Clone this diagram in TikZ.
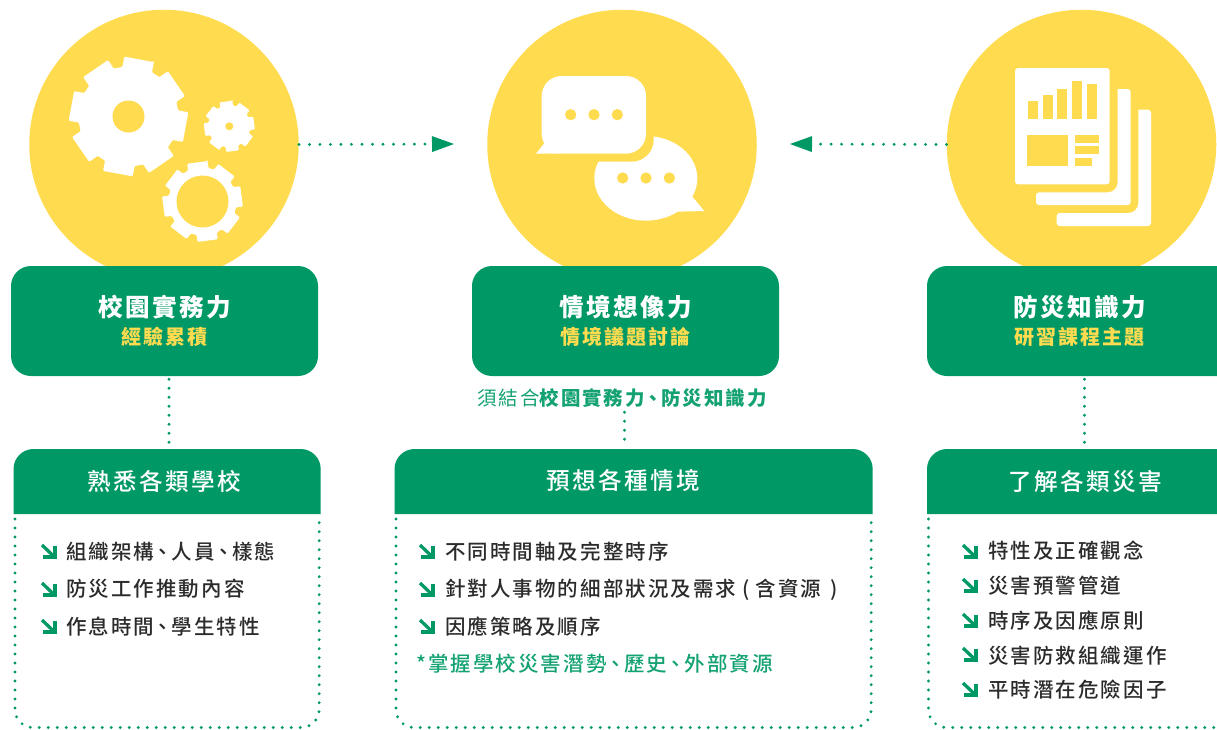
\documentclass[tikz,border=0pt]{standalone}
\usepackage{fontspec}
\usetikzlibrary{arrows.meta}
\setmainfont{Noto Sans CJK TC}
\newfontfamily\cjk[LetterSpace=10]{Noto Sans CJK TC}
\newfontfamily\cjkm[LetterSpace=10]{Noto Sans CJK TC Medium}
\definecolor{gr}{HTML}{009966}
\definecolor{ye}{HTML}{FFDB50}
\definecolor{lgr}{HTML}{14A273}
\definecolor{tx}{HTML}{2B2B2B}
\newcommand{\dun}{\hspace{-1.5pt}、\hspace{-1.5pt}}
\tikzset{
 x=1pt,y=-1pt,
 disc/.style={circle,fill=ye,minimum size=269.5pt,inner sep=0pt},
 gbox/.style={rectangle,fill=gr,rounded corners=20pt,minimum width=307pt,minimum height=110pt,inner sep=0pt},
 ttl/.style={inner sep=0pt,text=white,font=\cjk\bfseries\fontsize{24.6}{28}\selectfont},
 sub/.style={inner sep=0pt,text=ye,font=\cjk\bfseries\fontsize{20}{23}\selectfont},
 hdr/.style={inner sep=0pt,text=white,font=\cjkm\fontsize{23.6}{27}\selectfont},
 itm/.style={inner sep=0pt,anchor=west,text=tx,font=\cjkm\fontsize{20.5}{23}\selectfont},
 dotl/.style={draw=gr,line width=3.2pt,line cap=round,dash pattern=on 0pt off 9pt},
 dota/.style={draw=gr,line width=3.2pt,line cap=round,dash pattern=on 0pt off 10.5pt,
   -{Triangle[length=22pt,width=16pt,line width=0pt,fill=gr]}},
}
\newcommand{\gear}[6]{% cx cy R r hole a0
 \fill[white,rounded corners=1pt] ({#1+#3*cos(#6)},{#2-#3*sin(#6)})
 \foreach \k in {0,...,7}{
  -- ({#1+#3*cos(#6+29+45*\k)},{#2-#3*sin(#6+29+45*\k)})
  -- ({#1+#4*cos(#6+32+45*\k)},{#2-#4*sin(#6+32+45*\k)})
  -- ({#1+#4*cos(#6+42+45*\k)},{#2-#4*sin(#6+42+45*\k)})
  -- ({#1+#3*cos(#6+45+45*\k)},{#2-#3*sin(#6+45+45*\k)})
 } -- cycle;
 \fill[ye] (#1,#2) circle[radius=#5];
}
\newcommand{\bul}[2]{%
 \draw[gr,line width=3.3pt] (#1+1,#2-6) -- (#1+12.5,#2+5);
 \draw[gr,line width=3.3pt] (#1+14,#2-5) -- (#1+14,#2+6) -- (#1+2,#2+6);
}
\newcommand{\card}[2]{% x1 x2
 \draw[dotl,rounded corners=18pt] (#1+1.5,519) -- (#1+1.5,727.5) -- (#2-1.5,727.5) -- (#2-1.5,519);
 \fill[gr] (#1,514) -- (#1,469) arc[start angle=180,end angle=270,radius=20] -- (#2-20,449) arc[start angle=270,end angle=360,radius=20] -- (#2,514) -- cycle;
}
\begin{document}
\begin{tikzpicture}
\useasboundingbox (0,0) rectangle (1217,729);
\clip (0,0) rectangle (1217,729);
% discs
\node[disc] (c1) at (164,144.5) {};
\node[disc] (c2) at (622,144.5) {};
\node[disc] (c3) at (1081.5,144.5) {};
% gears
\gear{128.5}{116.5}{60}{50}{16}{65}
\gear{202.5}{201.5}{40.7}{34}{26}{83}
\gear{229.3}{126.3}{25.8}{21}{4}{83}
% speech bubbles
\begin{scope}[shift={(460,0)},x=0.33333pt,y=-0.33333pt]
 \fill[white] (557.5,535) ellipse[x radius=154.5,y radius=127];
 \fill[white] (697,590) -- (733,633) -- (652,635) -- cycle;
 \fill[ye,rounded corners=22pt] (222,205) rectangle (581,485);
 \fill[white,rounded corners=20pt] (245,228) rectangle (558,461);
 \fill[white] (228,461) -- (253,430) -- (300,461) -- cycle;
 \foreach \p in {332,402,472}{\fill[ye] (\p,344) circle[radius=17];}
 \foreach \p in {488,558,628}{\fill[ye] (\p,534) circle[radius=17];}
\end{scope}
% documents
\begin{scope}[shift={(780,0)},x=0.33333pt,y=-0.33333pt]
 \fill[white,rounded corners=3pt] (705,204) rectangle (989,553);
 \fill[white] [rounded corners=3pt] (1013,267) -- (1052,267) -- (1052,615) -- (768,615) -- (768,577) [rounded corners=10pt] -- (1013,577) [rounded corners=0pt] -- cycle;
 \fill[white] [rounded corners=3pt] (1075,329) -- (1113,329) -- (1113,678) -- (830,678) -- (830,639) [rounded corners=10pt] -- (1075,639) [rounded corners=0pt] -- cycle;
 \fill[ye] (744,303) rectangle (774,357);
 \fill[ye] (789,285) rectangle (819,357);
 \fill[ye] (831,267) rectangle (861,357);
 \fill[ye] (876,243) rectangle (906,357);
 \fill[ye] (921,252) rectangle (951,357);
 \fill[ye] (741,405) rectangle (864,498);
 \fill[ye] (885,405) rectangle (957,429);
 \fill[ye] (885,438) rectangle (957,462);
 \fill[ye] (885,474) rectangle (936,498);
\end{scope}
% green boxes
\node[gbox] (g1) at (164.5,321) {};
\node[gbox] (g2) at (625.5,321) {};
\node[gbox,minimum width=320pt] (g3) at (1087,321) {};
\node[ttl] (t1) at (164.5,307) {校園實務力};
\node[sub] (s1) at (164.5,336.5) {經驗累積};
\node[ttl] (t2) at (625.5,307) {情境想像力};
\node[sub] (s2) at (625.5,336.5) {情境議題討論};
\node[ttl] (t3) at (1079.5,307) {防災知識力};
\node[sub] (s3) at (1079.5,336.5) {研習課程主題};
% horizontal connectors
\coordinate (a1) at (454,144);
\coordinate (a2) at (790,144);
\draw[dota] (c1.east) -- (a1);
\draw[dota] (c3.west) -- (a2);
% label
\node[inner sep=0pt,text=lgr,font=\cjk\fontsize{19.5}{23}\selectfont] (lbl) at (622,398.5) {須結合{\bfseries 校園實務力\dun 防災知識力}};
% cards
\card{13.5}{320.7}
\card{394.5}{872.7}
\card{927}{1240}
\node[hdr] (h1) at (164.5,481) {熟悉各類學校};
\node[hdr] (h2) at (623,481) {預想各種情境};
\node[hdr] (h3) at (1085.5,481) {了解各類災害};
% vertical connectors
\coordinate (v1) at (169,448);
\coordinate (v2) at (624.5,448);
\coordinate (v3) at (1084.5,448);
\draw[dotl] (g1.south -| v1) ++(0,3) -- (v1);
\draw[dotl] (lbl.south -| v2) ++(0,4) -- (v2);
\draw[dotl] (g3.south -| v3) ++(0,3) -- (v3);
% lists
\bul{41}{551}\node[itm] (i11) at (66,551.5) {組織架構\dun 人員\dun 樣態};
\bul{41}{589}\node[itm] (i12) at (66,589) {防災工作推動內容};
\bul{41}{626}\node[itm] (i13) at (66,626.5) {作息時間\dun 學生特性};
\bul{419}{551}\node[itm] (i21) at (445,551.5) {不同時間軸及完整時序};
\bul{419}{589}\node[itm] (i22) at (445,590) {針對人事物的細部狀況及需求\hspace{6pt}(\hspace{6pt}含資源\hspace{9pt})};
\bul{419}{626}\node[itm] (i23) at (445,626.5) {因應策略及順序};
\node[itm,text=lgr] (i24) at (416,663.5) {*掌握學校災害潛勢\dun 歷史\dun 外部資源};
\bul{962}{551}\node[itm] (i31) at (988,551) {特性及正確觀念};
\bul{962}{585}\node[itm] (i32) at (988,586) {災害預警管道};
\bul{962}{620}\node[itm] (i33) at (988,621) {時序及因應原則};
\bul{962}{654}\node[itm] (i34) at (988,655.5) {災害防救組織運作};
\bul{962}{689}\node[itm] (i35) at (988,690) {平時潛在危險因子};
\end{tikzpicture}
\end{document}
